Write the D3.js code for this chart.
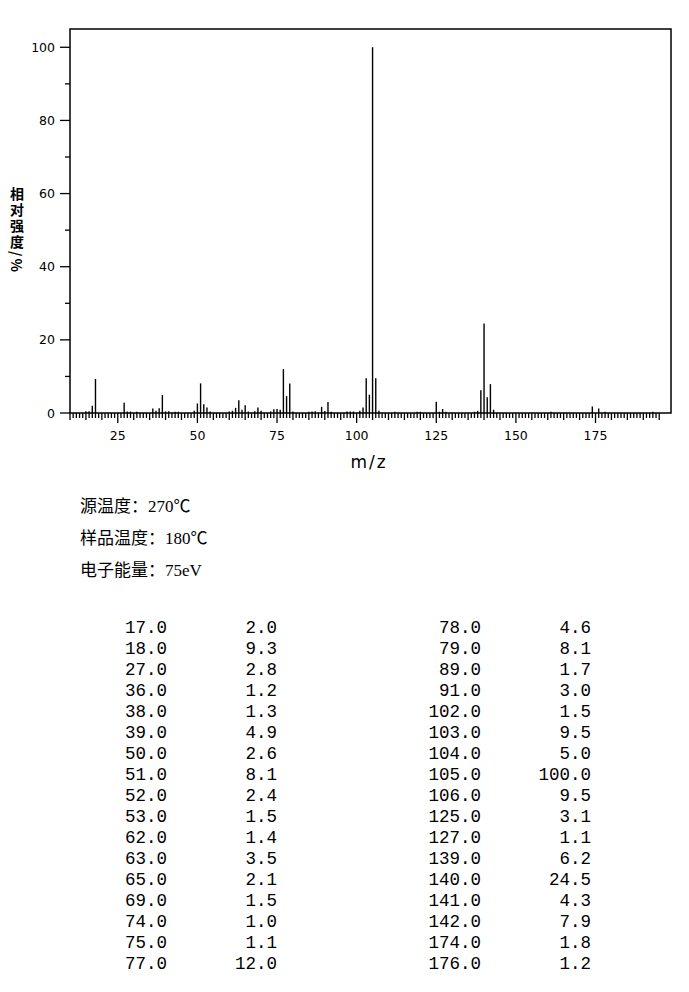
<!DOCTYPE html>
<html>
<head>
<meta charset="utf-8">
<script src="https://cdn.jsdelivr.net/npm/d3@7"></script>
<style>
  body { margin: 0; background: #fff; }
  svg { display: block; }
</style>
</head>
<body>
<script>
// peaks listed in the table (m/z, relative intensity %)
const tableMz = [17, 18, 27, 36, 38, 39, 50, 51, 52, 53, 62, 63, 65, 69, 74, 75, 77,
  78, 79, 89, 91, 102, 103, 104, 105, 106, 125, 127, 139, 140, 141, 142, 174, 176];
const tableInt = [2.0, 9.3, 2.8, 1.2, 1.3, 4.9, 2.6, 8.1, 2.4, 1.5, 1.4, 3.5, 2.1, 1.5, 1.0, 1.1, 12.0,
  4.6, 8.1, 1.7, 3.0, 1.5, 9.5, 5.0, 100.0, 9.5, 3.1, 1.1, 6.2, 24.5, 4.3, 7.9, 1.8, 1.2];

// small peaks drawn in the spectrum but under 1%
const minorMz = [15, 16, 28, 29, 31, 37, 40, 41, 43, 44, 49, 54, 60, 61, 64, 66, 68, 70, 73, 76,
  80, 85, 86, 87, 90, 92, 97, 98, 99, 101, 107, 112, 119, 120, 126, 128, 137, 138, 143, 161, 178, 193];
const minorInt = [0.45, 0.45, 0.4, 0.4, 0.35, 0.6, 0.45, 0.45, 0.35, 0.35, 0.6, 0.4, 0.4, 0.6, 0.9, 0.4, 0.45, 0.6, 0.45, 0.9,
  0.4, 0.35, 0.4, 0.5, 0.55, 0.35, 0.4, 0.4, 0.4, 0.6, 0.6, 0.35, 0.35, 0.35, 0.35, 0.35, 0.35, 0.6, 0.9, 0.35, 0.35, 0.35];

const xTicks = [25, 50, 75, 100, 125, 150, 175];
const yTicks = [0, 20, 40, 60, 80, 100];
const yLabel = '相对强度/%';
const infoLines = ['源温度：270℃', '样品温度：180℃', '电子能量：75eV'];

const width = 689, height = 992;
const plot = { left: 70, right: 671, top: 29, bottom: 413 };

const svg = d3.select('body').append('svg')
  .attr('width', width)
  .attr('height', height);

const x = d3.scaleLinear().domain([10, 198.7]).range([plot.left, plot.right]);
const y = d3.scaleLinear().domain([0, 105]).range([plot.bottom, plot.top]);

// frame
svg.append('rect')
  .attr('x', plot.left).attr('y', plot.top)
  .attr('width', plot.right - plot.left).attr('height', plot.bottom - plot.top)
  .attr('fill', 'none').attr('stroke', '#000').attr('stroke-width', 1.5);

// x ticks: every unit, longer every 5, longest at labels
const xt = d3.range(10, 196);
svg.append('g').selectAll('line').data(xt).join('line')
  .attr('x1', (d) => x(d)).attr('x2', (d) => x(d))
  .attr('y1', plot.bottom)
  .attr('y2', (d) => {
    if (xTicks.includes(d)) return plot.bottom + 10;
    if (d % 5 === 0) return plot.bottom + 7;
    return plot.bottom + 5;
  })
  .attr('stroke', '#000').attr('stroke-width', 1.3);

svg.append('g').selectAll('text').data(xTicks).join('text')
  .attr('x', (d) => x(d)).attr('y', plot.bottom + 27)
  .attr('text-anchor', 'middle')
  .attr('font-family', 'DejaVu Sans').attr('font-size', 12.5)
  .text((d) => d);

// y ticks
const yt = d3.range(0, 101, 10);
svg.append('g').selectAll('line').data(yt).join('line')
  .attr('x1', (d) => (d % 20 === 0 ? plot.left - 10 : plot.left - 5)).attr('x2', plot.left)
  .attr('y1', (d) => y(d)).attr('y2', (d) => y(d))
  .attr('stroke', '#000').attr('stroke-width', 1.3);

svg.append('g').selectAll('text').data(yTicks).join('text')
  .attr('x', plot.left - 15).attr('y', (d) => y(d))
  .attr('dy', '0.36em')
  .attr('text-anchor', 'end')
  .attr('font-family', 'DejaVu Sans').attr('font-size', 12.5)
  .text((d) => d);

// axis titles
svg.append('text')
  .attr('x', 369).attr('y', 468)
  .attr('text-anchor', 'middle')
  .attr('font-family', 'DejaVu Sans').attr('font-size', 17)
  .attr('letter-spacing', 2)
  .text('m/z');

// vertical title: CJK upright, "/%" turned sideways
svg.append('text')
  .attr('x', 17).attr('y', 187)
  .style('writing-mode', 'vertical-rl')
  .style('text-orientation', 'mixed')
  .attr('letter-spacing', 2)
  .attr('font-family', 'Noto Sans CJK SC').attr('font-size', 14).attr('font-weight', 'bold')
  .text(yLabel);

// peaks
const minor = minorMz.map((m, i) => ({ mz: m, v: minorInt[i] }));
const peaks = tableMz.map((m, i) => ({ mz: m, v: tableInt[i] }));

svg.append('g').selectAll('line').data(minor.concat(peaks)).join('line')
  .attr('x1', (d) => x(d.mz)).attr('x2', (d) => x(d.mz))
  .attr('y1', y(0)).attr('y2', (d) => y(d.v))
  .attr('stroke', '#000').attr('stroke-width', 1.4);

// experiment info
svg.append('g').selectAll('text').data(infoLines).join('text')
  .attr('x', 80).attr('y', (d, i) => 512 + i * 32)
  .attr('font-family', 'Liberation Serif, Noto Sans CJK SC').attr('font-size', 17)
  .text((d) => d);

// peak table, two column pairs
const half = Math.ceil(peaks.length / 2);
const cols = [
  { mzX: 167, vX: 277, rows: peaks.slice(0, half) },
  { mzX: 481, vX: 591, rows: peaks.slice(half) }
];

cols.forEach((c) => {
  const g = svg.append('g')
    .attr('font-family', 'Liberation Mono').attr('font-size', 17.5)
    .attr('text-anchor', 'end');
  g.selectAll('.mz').data(c.rows).join('text')
    .attr('class', 'mz')
    .attr('x', c.mzX).attr('y', (d, i) => 633 + i * 21)
    .text((d) => d.mz.toFixed(1));
  g.selectAll('.val').data(c.rows).join('text')
    .attr('class', 'val')
    .attr('x', c.vX).attr('y', (d, i) => 633 + i * 21)
    .text((d) => d.v.toFixed(1));
});
</script>
</body>
</html>
